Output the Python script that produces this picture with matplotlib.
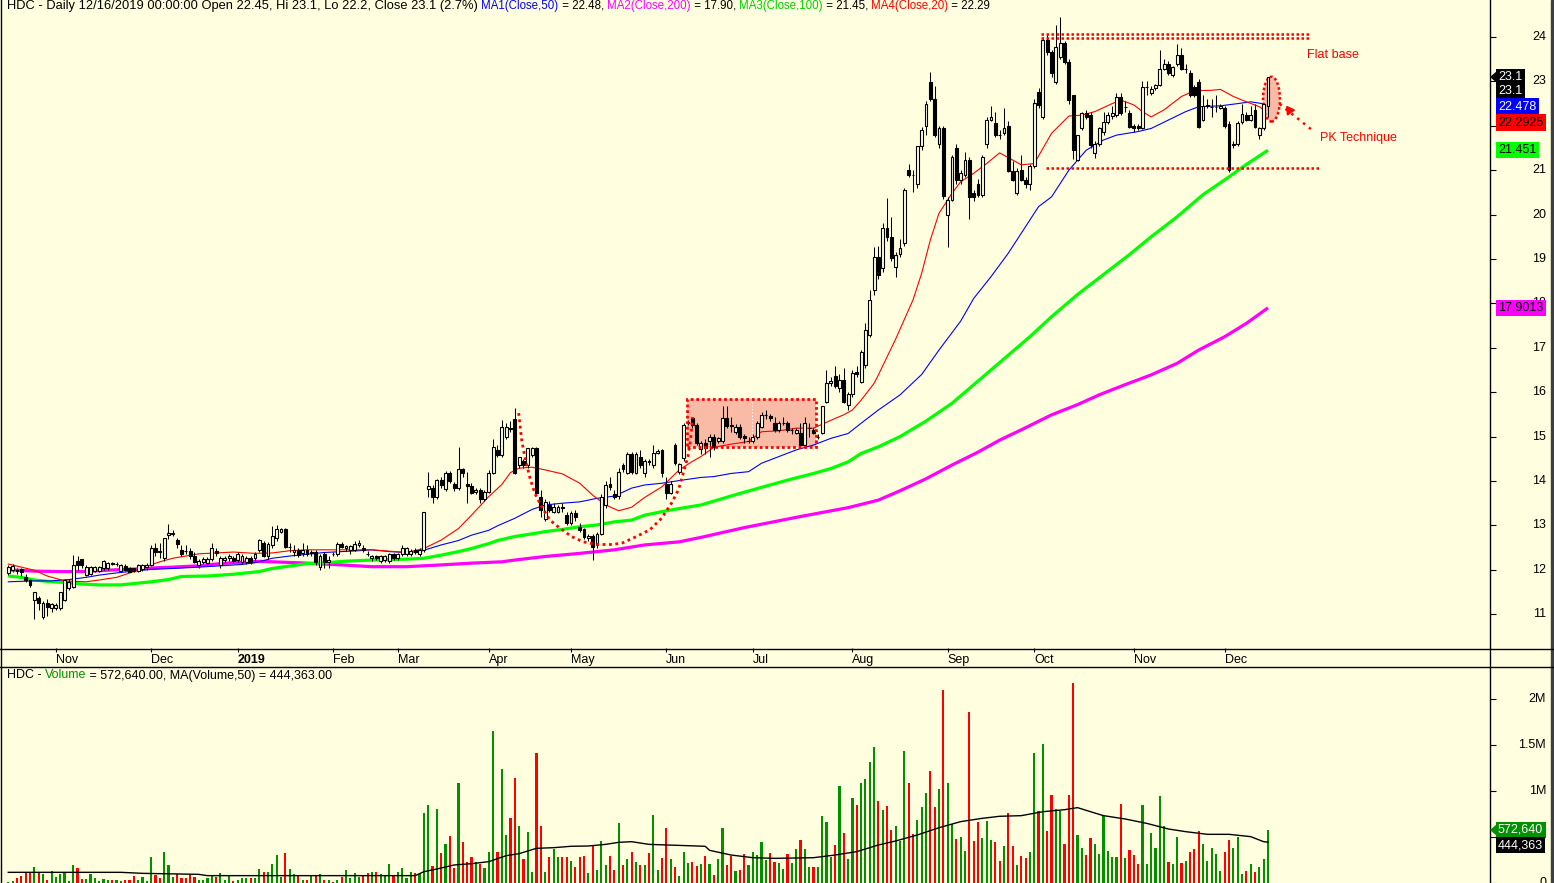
import numpy as np
import matplotlib
matplotlib.use("Agg")
import matplotlib.pyplot as plt
from matplotlib.patches import Rectangle, Ellipse, Polygon
from matplotlib.lines import Line2D
from matplotlib.transforms import blended_transform_factory, ScaledTranslation

plt.rcParams['font.family'] = ['Liberation Sans', 'DejaVu Sans']

# ---- daily OHLC, Oct 2018 .. 16 Dec 2019 ----
opens = [
    11.92, 12.00, 12.00, 12.01, 11.84, 11.77, 11.32, 11.36, 10.93, 11.26,
    11.13, 11.15, 11.13, 11.32, 11.58, 11.62, 12.20, 12.24, 11.89, 11.90,
    11.98, 11.98, 12.04, 12.04, 12.15, 12.13, 11.98, 12.09, 12.03, 12.03,
    11.98, 12.01, 12.06, 12.11, 12.48, 12.42, 12.26, 12.78, 12.81, 12.67,
    12.45, 12.43, 12.43, 12.31, 12.11, 12.18, 12.15, 12.24, 12.43, 12.11,
    12.21, 12.26, 12.26, 12.22, 12.18, 12.18, 12.26, 12.26, 12.45, 12.61,
    12.30, 12.56, 12.71, 12.86, 12.91, 12.52, 12.39, 12.45, 12.37, 12.45,
    12.37, 12.39, 12.06, 12.36, 12.18, 12.36, 12.35, 12.58, 12.48, 12.45,
    12.45, 12.56, 12.48, 12.36, 12.26, 12.31, 12.20, 12.22, 12.20, 12.35,
    12.26, 12.35, 12.35, 12.36, 12.45, 12.36, 12.45, 13.83, 13.85, 13.65,
    14.02, 13.83, 14.19, 13.93, 13.84, 14.26, 13.93, 13.89, 13.76, 13.80,
    13.59, 13.76, 14.17, 14.70, 14.59, 15.00, 15.19, 15.39, 14.36, 14.44,
    14.36, 14.59, 14.74, 13.65, 13.14, 13.46, 13.31, 13.31, 13.41, 13.23,
    13.05, 13.27, 12.97, 12.91, 12.71, 12.76, 12.58, 12.81, 13.46, 13.93,
    13.71, 13.66, 14.36, 14.19, 14.60, 14.19, 14.55, 14.17, 14.44, 14.36,
    14.64, 14.70, 13.93, 13.74, 14.81, 14.21, 14.51, 15.30, 15.41, 15.26,
    14.71, 14.86, 14.89, 14.98, 14.89, 14.89, 15.41, 15.26, 15.11, 15.22,
    15.01, 14.91, 14.89, 15.00, 15.22, 15.49, 15.46, 15.30, 15.15, 15.30,
    15.30, 15.14, 15.09, 15.09, 14.80, 15.19, 15.15, 15.00, 15.09, 15.79,
    16.21, 16.36, 16.09, 16.28, 15.71, 15.95, 16.46, 16.24, 16.61, 17.29,
    18.30, 19.05, 18.79, 19.69, 19.49, 18.83, 19.11, 19.35, 21.00, 20.90,
    20.68, 21.54, 22.00, 22.99, 22.60, 21.59, 21.94, 19.99, 20.34, 21.49,
    20.78, 20.89, 21.24, 20.49, 20.69, 20.44, 21.59, 22.14, 22.07, 21.80,
    21.84, 22.00, 20.99, 20.49, 21.00, 20.79, 20.69, 21.09, 22.77, 22.20,
    23.93, 23.67, 22.99, 23.56, 23.86, 23.44, 22.69, 21.24, 21.94, 22.28,
    22.24, 21.38, 21.59, 21.87, 22.09, 22.22, 22.24, 22.64, 22.43, 22.28,
    21.99, 21.99, 21.96, 22.88, 22.73, 22.86, 22.92, 23.29, 23.39, 23.14,
    23.39, 23.59, 23.29, 23.20, 22.88, 22.99, 22.14, 22.44, 22.43, 22.43,
    22.41, 22.41, 22.04, 21.57, 21.59, 22.09, 22.24, 22.14, 22.35, 21.79,
    21.94, 22.45,
]
highs = [
    12.10, 12.12, 12.05, 12.05, 11.90, 11.80, 11.50, 11.40, 11.30, 11.35,
    11.25, 11.25, 11.50, 11.80, 11.80, 12.33, 12.30, 12.25, 12.10, 12.08,
    12.08, 12.08, 12.22, 12.18, 12.18, 12.18, 12.12, 12.12, 12.06, 12.05,
    12.12, 12.14, 12.15, 12.55, 12.60, 12.60, 12.72, 13.03, 12.90, 12.72,
    12.55, 12.55, 12.48, 12.40, 12.24, 12.28, 12.28, 12.60, 12.48, 12.30,
    12.30, 12.35, 12.30, 12.40, 12.35, 12.30, 12.30, 12.40, 12.70, 12.65,
    12.62, 12.99, 13.00, 12.95, 12.95, 12.60, 12.55, 12.50, 12.60, 12.55,
    12.45, 12.45, 12.35, 12.40, 12.30, 12.40, 12.62, 12.62, 12.56, 12.56,
    12.65, 12.68, 12.55, 12.42, 12.34, 12.34, 12.34, 12.34, 12.38, 12.38,
    12.38, 12.55, 12.52, 12.46, 12.48, 12.48, 13.31, 14.21, 13.90, 14.05,
    14.08, 14.22, 14.22, 13.98, 14.77, 14.30, 14.20, 13.95, 13.85, 13.85,
    13.80, 14.25, 14.95, 14.80, 15.37, 15.30, 15.35, 15.64, 14.55, 14.50,
    14.75, 14.76, 14.76, 13.80, 13.60, 13.55, 13.50, 13.45, 13.50, 13.30,
    13.32, 13.35, 13.05, 12.95, 12.80, 12.80, 12.85, 13.70, 14.00, 14.10,
    13.80, 14.30, 14.40, 14.65, 14.65, 14.65, 14.70, 14.50, 14.50, 14.80,
    14.72, 14.72, 14.10, 14.00, 14.85, 14.40, 15.30, 15.38, 15.45, 15.30,
    14.90, 14.95, 15.05, 15.05, 15.00, 15.70, 15.70, 15.45, 15.28, 15.28,
    15.05, 15.00, 15.05, 15.35, 15.55, 15.60, 15.50, 15.45, 15.35, 15.45,
    15.35, 15.20, 15.20, 15.30, 15.45, 15.30, 15.20, 15.05, 15.70, 16.50,
    16.35, 16.60, 16.40, 16.55, 16.00, 16.50, 16.60, 16.95, 17.55, 18.30,
    19.27, 19.30, 19.80, 20.37, 19.95, 19.15, 19.45, 20.60, 21.15, 21.00,
    21.55, 21.98, 22.55, 23.22, 22.90, 22.00, 22.00, 20.40, 21.35, 21.60,
    21.00, 21.40, 21.30, 20.55, 20.80, 21.35, 22.20, 22.45, 22.30, 21.90,
    22.40, 22.10, 21.20, 21.05, 21.35, 20.85, 21.15, 22.60, 22.85, 24.00,
    24.05, 23.70, 24.27, 24.46, 23.90, 23.50, 22.70, 21.80, 22.30, 22.35,
    22.30, 21.65, 21.98, 22.30, 22.30, 22.45, 22.73, 22.73, 22.55, 22.35,
    22.05, 22.05, 23.00, 23.00, 22.90, 22.95, 23.70, 23.50, 23.45, 23.35,
    23.85, 23.75, 23.40, 23.25, 22.92, 23.05, 22.70, 22.60, 22.60, 22.70,
    22.50, 22.45, 22.10, 21.65, 22.10, 22.50, 22.30, 22.45, 22.50, 21.98,
    22.52, 23.10,
]
lows = [
    11.88, 11.95, 11.90, 11.85, 11.72, 11.62, 10.90, 11.10, 10.90, 10.95,
    11.05, 11.10, 11.10, 11.30, 11.55, 11.60, 12.00, 12.05, 11.85, 11.88,
    11.95, 11.95, 12.00, 12.00, 12.10, 12.08, 11.95, 11.98, 11.94, 11.95,
    11.95, 11.98, 12.00, 12.08, 12.30, 12.26, 12.20, 12.70, 12.75, 12.50,
    12.30, 12.35, 12.25, 12.15, 12.05, 12.12, 12.10, 12.20, 12.30, 12.05,
    12.15, 12.20, 12.15, 12.18, 12.12, 12.12, 12.12, 12.20, 12.40, 12.28,
    12.25, 12.50, 12.65, 12.82, 12.48, 12.40, 12.30, 12.28, 12.30, 12.30,
    12.32, 12.10, 12.00, 12.05, 12.05, 12.30, 12.30, 12.48, 12.42, 12.35,
    12.42, 12.52, 12.40, 12.30, 12.20, 12.22, 12.15, 12.18, 12.15, 12.22,
    12.22, 12.32, 12.30, 12.32, 12.35, 12.32, 12.40, 13.65, 13.50, 13.60,
    13.85, 13.78, 13.95, 13.78, 13.80, 14.10, 13.50, 13.70, 13.70, 13.50,
    13.55, 13.72, 14.15, 14.55, 14.55, 14.95, 15.10, 14.15, 14.30, 14.30,
    14.30, 14.55, 13.70, 13.20, 13.10, 13.30, 13.28, 13.28, 13.30, 13.00,
    13.00, 13.10, 12.85, 12.70, 12.65, 12.22, 12.50, 12.78, 13.40, 13.80,
    13.60, 13.60, 14.20, 14.15, 14.15, 14.15, 14.30, 14.10, 14.35, 14.30,
    14.60, 14.10, 13.60, 13.70, 14.35, 14.15, 14.45, 15.25, 15.20, 14.80,
    14.60, 14.60, 14.55, 14.70, 14.85, 14.85, 15.20, 15.10, 15.05, 14.95,
    14.85, 14.85, 14.85, 14.95, 15.20, 15.40, 15.35, 15.10, 15.10, 15.25,
    15.10, 15.05, 15.05, 14.78, 14.78, 15.00, 15.05, 14.95, 15.05, 15.75,
    16.15, 16.10, 16.00, 15.75, 15.60, 15.90, 16.35, 16.20, 16.55, 17.25,
    18.20, 18.55, 18.70, 19.40, 18.95, 18.60, 19.05, 19.30, 20.85, 20.50,
    20.60, 21.45, 21.80, 22.55, 21.75, 21.50, 20.35, 19.26, 20.30, 20.70,
    20.70, 20.85, 19.90, 20.30, 20.40, 20.40, 21.50, 22.10, 21.75, 21.70,
    21.80, 20.95, 20.75, 20.45, 20.75, 20.60, 20.55, 21.05, 22.40, 22.15,
    23.60, 23.10, 22.95, 23.50, 23.40, 22.50, 21.25, 21.20, 21.90, 22.15,
    21.50, 21.28, 21.55, 21.80, 22.05, 22.15, 22.20, 22.25, 22.30, 21.95,
    21.85, 21.90, 21.92, 22.70, 22.70, 22.80, 22.90, 23.25, 23.15, 23.10,
    23.35, 23.25, 23.20, 22.65, 22.65, 21.95, 22.10, 22.40, 22.20, 22.30,
    22.38, 21.95, 20.95, 21.50, 21.55, 22.05, 22.10, 22.10, 21.95, 21.70,
    21.90, 22.20,
]
closes = [
    12.06, 12.09, 11.98, 11.96, 11.78, 11.66, 11.49, 11.26, 11.26, 11.17,
    11.22, 11.20, 11.49, 11.76, 11.73, 12.11, 12.11, 12.11, 12.06, 12.06,
    12.06, 12.06, 12.20, 12.15, 12.14, 12.13, 12.11, 12.00, 11.96, 11.98,
    12.10, 12.11, 12.11, 12.48, 12.39, 12.40, 12.71, 12.82, 12.84, 12.58,
    12.35, 12.42, 12.31, 12.18, 12.20, 12.24, 12.24, 12.49, 12.37, 12.26,
    12.26, 12.31, 12.20, 12.35, 12.31, 12.26, 12.18, 12.35, 12.67, 12.30,
    12.58, 12.76, 12.91, 12.91, 12.52, 12.52, 12.45, 12.33, 12.45, 12.36,
    12.40, 12.18, 12.31, 12.18, 12.23, 12.35, 12.58, 12.52, 12.53, 12.53,
    12.58, 12.61, 12.45, 12.35, 12.31, 12.26, 12.31, 12.31, 12.35, 12.26,
    12.35, 12.48, 12.48, 12.43, 12.39, 12.45, 13.31, 13.88, 13.65, 14.02,
    13.91, 14.19, 14.01, 13.84, 14.26, 14.17, 13.89, 13.74, 13.80, 13.59,
    13.76, 14.17, 14.77, 14.59, 15.21, 15.21, 15.17, 14.17, 14.53, 14.36,
    14.74, 14.74, 13.74, 13.35, 13.53, 13.35, 13.41, 13.41, 13.40, 13.05,
    13.29, 13.18, 12.90, 12.75, 12.76, 12.52, 12.81, 13.65, 13.91, 13.87,
    13.65, 14.21, 14.26, 14.60, 14.21, 14.60, 14.36, 14.44, 14.43, 14.64,
    14.68, 14.17, 13.74, 13.93, 14.40, 14.38, 15.26, 15.34, 15.26, 14.85,
    14.85, 14.74, 15.00, 14.77, 14.96, 15.41, 15.24, 15.25, 15.22, 15.00,
    14.96, 14.91, 15.00, 15.30, 15.49, 15.49, 15.41, 15.15, 15.30, 15.30,
    15.15, 15.14, 15.14, 14.81, 15.30, 15.19, 15.09, 15.00, 15.69, 16.20,
    16.25, 16.14, 16.28, 15.79, 15.95, 16.44, 16.41, 16.91, 17.40, 18.08,
    19.05, 18.64, 19.69, 19.49, 19.03, 19.09, 19.24, 20.55, 20.89, 20.89,
    21.54, 21.90, 22.48, 22.60, 21.79, 21.94, 20.42, 20.34, 21.29, 20.79,
    20.93, 21.24, 20.40, 20.40, 20.44, 21.29, 22.14, 22.19, 21.79, 21.79,
    21.94, 20.99, 20.79, 20.99, 20.79, 20.69, 21.09, 22.52, 22.47, 23.93,
    23.67, 23.18, 23.78, 23.86, 23.44, 22.58, 21.45, 21.79, 22.28, 22.20,
    21.57, 21.59, 21.94, 22.09, 22.24, 22.28, 22.64, 22.28, 22.43, 21.98,
    21.94, 21.94, 22.88, 22.88, 22.84, 22.92, 23.29, 23.39, 23.18, 23.33,
    23.59, 23.29, 23.29, 22.69, 22.69, 21.98, 22.44, 22.47, 22.43, 22.43,
    22.44, 21.99, 21.00, 21.59, 22.07, 22.26, 22.14, 22.24, 21.98, 21.94,
    22.49, 23.10,
]
# volume in thousands of shares
volume_k = [
    14, 22, 51, 76, 116, 116, 174, 116, 94, 33,
    130, 65, 94, 109, 22, 196, 167, 43, 43, 94,
    51, 22, 43, 33, 29, 29, 22, 29, 33, 80,
    29, 65, 22, 283, 87, 51, 333, 196, 65, 94,
    58, 58, 87, 65, 33, 33, 58, 87, 65, 109,
    33, 72, 22, 29, 51, 51, 51, 58, 152, 123,
    123, 210, 304, 65, 322, 152, 101, 87, 33, 33,
    87, 87, 94, 33, 33, 14, 33, 65, 141, 51,
    105, 65, 87, 109, 123, 116, 101, 87, 207, 80,
    116, 167, 58, 116, 105, 94, 764, 848, 188, 804,
    326, 424, 511, 159, 1087, 442, 228, 283, 228, 210,
    167, 337, 1652, 337, 1239, 522, 707, 1141, 620, 261,
    558, 123, 1417, 620, 120, 283, 370, 283, 283, 283,
    239, 174, 283, 293, 109, 413, 145, 457, 196, 293,
    145, 652, 196, 261, 341, 232, 196, 196, 326, 739,
    141, 275, 601, 261, 178, 80, 341, 217, 232, 185,
    207, 297, 207, 87, 261, 601, 196, 297, 130, 145,
    315, 196, 337, 304, 449, 250, 326, 232, 217, 152,
    315, 217, 370, 467, 370, 174, 174, 174, 732, 663,
    283, 413, 1054, 543, 261, 924, 848, 1087, 1130, 1315,
    1482, 891, 793, 837, 576, 620, 457, 1435, 1087, 529,
    685, 826, 978, 1217, 826, 1022, 2098, 1087, 645, 478,
    500, 348, 1859, 457, 663, 489, 674, 467, 446, 239,
    402, 761, 402, 196, 293, 272, 337, 1413, 783, 1511,
    565, 957, 804, 786, 424, 957, 2174, 522, 380, 304,
    489, 424, 315, 728, 348, 283, 283, 859, 272, 359,
    304, 207, 848, 207, 543, 380, 946, 620, 228, 207,
    500, 217, 239, 337, 370, 565, 424, 239, 380, 315,
    130, 337, 467, 380, 500, 98, 130, 207, 120, 174,
    261, 572.64,
]

# moving averages (bar index, value)
ma20_idx = [0, 6, 9, 13, 18, 21, 25, 29, 32, 35, 38, 44, 52, 57, 61, 65, 69, 77, 84, 88,
            92, 96, 100, 104, 107, 111, 114, 116, 118, 121, 124, 128, 132, 135, 138, 141, 144, 147, 151, 155,
            158, 160, 163, 167, 171, 174, 178, 182, 186, 191, 193, 195, 197, 200, 201, 205, 209, 211, 213, 215,
            218, 220, 223, 226, 229, 232, 234, 237, 239, 241, 245, 248, 251, 255, 257, 260, 262, 264, 267, 271,
            274, 278, 280, 283, 286, 289, 291]
ma20_val = [12.13, 11.99, 11.86, 11.75, 11.73, 11.77, 11.83, 11.96, 12.08, 12.18, 12.26, 12.36, 12.40, 12.37, 12.38, 12.43, 12.45, 12.45, 12.45, 12.42,
            12.39, 12.48, 12.67, 12.93, 13.23, 13.65, 13.92, 14.19, 14.29, 14.31, 14.25, 14.16, 13.95, 13.68, 13.46, 13.33, 13.41, 13.63, 13.87, 14.25,
            14.44, 14.55, 14.76, 14.83, 14.89, 15.11, 15.13, 15.19, 15.19, 15.41, 15.49, 15.60, 15.82, 16.20, 16.39, 17.20, 18.08, 18.68, 19.43, 20.03,
            20.48, 20.74, 20.93, 21.15, 21.39, 21.23, 21.12, 21.15, 21.49, 21.83, 22.22, 22.24, 22.32, 22.50, 22.58, 22.47, 22.32, 22.20, 22.36, 22.66,
            22.79, 22.80, 22.82, 22.66, 22.54, 22.43, 22.29]
ma50_idx = [0, 6, 10, 14, 18, 21, 25, 29, 33, 38, 44, 49, 54, 57, 61, 65, 69, 73, 77, 81,
            84, 88, 92, 95, 100, 104, 107, 111, 113, 117, 121, 124, 128, 132, 136, 140, 144, 147, 151, 155,
            160, 163, 167, 171, 174, 178, 182, 186, 190, 194, 197, 201, 206, 211, 215, 220, 223, 227, 231, 234,
            238, 241, 245, 249, 253, 256, 261, 264, 268, 272, 275, 280, 284, 287, 291]
ma50_val = [11.73, 11.75, 11.75, 11.78, 11.83, 11.88, 11.93, 11.97, 12.01, 12.03, 12.06, 12.09, 12.12, 12.16, 12.26, 12.31, 12.35, 12.39, 12.41, 12.43,
            12.45, 12.41, 12.39, 12.41, 12.56, 12.66, 12.78, 12.89, 12.99, 13.16, 13.36, 13.46, 13.50, 13.53, 13.61, 13.66, 13.84, 13.91, 13.95, 14.01,
            14.08, 14.10, 14.17, 14.21, 14.40, 14.55, 14.70, 14.81, 14.96, 15.07, 15.30, 15.60, 15.94, 16.40, 16.95, 17.60, 18.11, 18.60, 19.13, 19.58,
            20.18, 20.40, 21.00, 21.45, 21.68, 21.79, 21.87, 21.94, 22.13, 22.32, 22.43, 22.45, 22.50, 22.54, 22.48]
ma100_idx = [0, 3, 6, 10, 14, 17, 21, 26, 29, 33, 37, 40, 46, 52, 58, 61, 69, 74, 77, 84,
             92, 96, 100, 104, 107, 111, 113, 117, 121, 124, 128, 132, 136, 140, 144, 147, 151, 155, 160, 169,
             180, 186, 190, 194, 197, 201, 206, 212, 218, 224, 230, 236, 241, 247, 253, 259, 264, 270, 276, 282,
             286, 291]
ma100_val = [11.86, 11.83, 11.77, 11.73, 11.71, 11.68, 11.66, 11.66, 11.69, 11.73, 11.78, 11.85, 11.86, 11.90, 11.96, 12.03, 12.14, 12.16, 12.19, 12.22,
             12.24, 12.26, 12.33, 12.41, 12.48, 12.59, 12.66, 12.75, 12.81, 12.86, 12.91, 12.97, 13.01, 13.08, 13.12, 13.23, 13.31, 13.38, 13.46, 13.72,
             14.02, 14.17, 14.28, 14.43, 14.62, 14.77, 15.00, 15.35, 15.75, 16.25, 16.75, 17.25, 17.70, 18.20, 18.65, 19.10, 19.50, 19.95, 20.45, 20.85,
             21.13, 21.45]
ma200_idx = [0, 6, 12, 17, 25, 30, 35, 38, 44, 49, 54, 58, 61, 69, 73, 77, 84, 92, 100, 107,
             114, 117, 124, 132, 140, 147, 155, 160, 170, 183, 194, 201, 206, 212, 218, 224, 229, 235, 241, 247,
             252, 258, 264, 270, 275, 281, 286, 291]
ma200_val = [12.00, 11.97, 11.96, 11.96, 12.00, 12.02, 12.05, 12.06, 12.09, 12.14, 12.17, 12.19, 12.18, 12.15, 12.13, 12.11, 12.07, 12.07, 12.11, 12.15,
             12.18, 12.22, 12.30, 12.37, 12.45, 12.56, 12.63, 12.73, 12.95, 13.20, 13.40, 13.57, 13.78, 14.05, 14.36, 14.65, 14.92, 15.20, 15.49, 15.72,
             15.94, 16.17, 16.39, 16.65, 16.95, 17.25, 17.55, 17.90]
vma_idx = [0, 26, 31, 44, 46, 94, 96, 99, 103, 107, 111, 115, 118, 122, 126, 130, 134, 138, 141, 144,
           148, 161, 162, 167, 172, 177, 186, 191, 196, 201, 205, 210, 215, 220, 225, 229, 234, 239, 244, 247,
           250, 253, 258, 263, 268, 272, 277, 282, 287, 290, 291]
vma_k = [116, 116, 105, 94, 80, 80, 123, 152, 196, 210, 232, 297, 319, 377, 384, 399, 402, 420, 442, 449,
         420, 399, 355, 304, 275, 268, 275, 304, 341, 413, 457, 522, 601, 667, 703, 725, 732, 775, 797, 819,
         775, 732, 696, 648, 587, 558, 529, 529, 504, 449, 444]

month_idx = [11, 33, 53, 75, 90, 111, 130, 152, 172, 195, 217, 237, 260, 281]
month_lbl = ['Nov', 'Dec', '2019', 'Feb', 'Mar', 'Apr', 'May', 'Jun', 'Jul', 'Aug', 'Sep', 'Oct', 'Nov', 'Dec']

# hand drawn annotations (bar index / price)
cup_idx = [117.9, 118.6, 119.3, 120.5, 121.6, 123.2, 125.1, 127.4, 130.1, 132.8, 135.9, 139.7, 142.0,
           145.1, 148.2, 150.9, 153.2, 154.8, 155.9, 157.0, 157.6, 158.1]
cup_price = [15.53, 14.92, 14.55, 14.07, 13.73, 13.42, 13.12, 12.94, 12.75, 12.63, 12.57, 12.57, 12.61,
             12.75, 12.90, 13.16, 13.50, 13.80, 14.17, 14.55, 14.92, 15.44]
box_idx = (156.7, 186.7)
box_price = (14.77, 15.85)
flat_top = (238.6, 301.0, 24.06, 23.97)
flat_bottom = (239.8, 302.9, 21.06)

W, H = 1554, 883
BG = '#FFFFE0'
GREEN_VOL = '#009000'

o = np.array(opens); h = np.array(highs); l = np.array(lows); c = np.array(closes)
v = np.array(volume_k) / 1000.0
n = len(c)
x = np.arange(n)
step = (1268 - 8.3) / (n - 1)
xlim = (-8.3 / step, (1490 - 8.3) / step)

fig = plt.figure(figsize=(W / 100, H / 100), dpi=100, facecolor=BG)
ax = fig.add_axes([0, 235 / H, 1490 / W, 648 / H], facecolor=BG)
axv = fig.add_axes([0, 0, 1490 / W, 217 / H], facecolor=BG)

for a in (ax, axv):
    a.set_xlim(*xlim)
    for s in a.spines.values():
        s.set_visible(False)
ax.set_ylim(24 - 611 / 44.4, 24 + 37 / 44.4)
axv.set_ylim(0, 217 / 92)

# moving averages
ax.plot(ma200_idx, ma200_val, color='#FF00FF', lw=2.3, zorder=2, solid_capstyle='butt')
ax.plot(ma100_idx, ma100_val, color='#00FF00', lw=2.3, zorder=2, solid_capstyle='butt')
ax.plot(ma50_idx, ma50_val, color='#0000FF', lw=0.8, zorder=2)
ax.plot(ma20_idx, ma20_val, color='#FF0000', lw=0.8, zorder=2)

# annotation: consolidation box and cup
ax.add_patch(Rectangle((box_idx[0], box_price[0]), box_idx[1] - box_idx[0], box_price[1] - box_price[0],
                       facecolor='#F9BBA6', edgecolor='none', zorder=1))
ax.add_patch(Rectangle((box_idx[0], box_price[0]), box_idx[1] - box_idx[0], box_price[1] - box_price[0],
                       facecolor='none', edgecolor='#FF0000', lw=2.0, linestyle=(0, (1, 1)), zorder=5))
ax.plot([171.8, 171.8], [14.85, 15.85], color='white', lw=0.8, linestyle=(0, (1, 2)), zorder=1.5)
ax.plot(cup_idx, cup_price, color='#FF0000', lw=2.0, linestyle=(0, (1, 1.3)), zorder=5)

# flat base lines
for yv in flat_top[2:]:
    ax.plot([flat_top[0], flat_top[1]], [yv, yv], color='#FF0000', lw=1.8, linestyle=(0, (1, 1)), zorder=5)
ax.plot([flat_bottom[0], flat_bottom[1]], [flat_bottom[2], flat_bottom[2]], color='#FF0000', lw=1.8,
        linestyle=(0, (1, 1)), zorder=5)

# PK ellipse + arrow
ax.add_patch(Ellipse((291.8, 22.60), 3.9, 1.01, facecolor='#F9BBA6', edgecolor='#FF0000', lw=1.8,
                     linestyle=(0, (1, 1)), zorder=2.5))
ax.plot([293.7, 301.1], [22.49, 21.91], color='#FF0000', lw=1.8, linestyle=(0, (1, 2)), zorder=5)
ax.plot([295.9], [22.36], marker=(3, 0, 35), color='#FF0000', markersize=7, zorder=5)

# candles
up = c >= o
ax.vlines(x, l, h, color='black', lw=0.75, zorder=3)
bottom = np.minimum(o, c)
height = np.abs(c - o)
ax.bar(x[up], height[up], bottom=bottom[up], width=0.66, color=BG, edgecolor='black', lw=0.8, zorder=4)
ax.bar(x[~up], height[~up], bottom=bottom[~up], width=0.66, color='black', edgecolor='black', lw=0.8, zorder=4)

# volume, coloured like the candle
vcol = np.where(up, GREEN_VOL, '#FF0000')
axv.bar(x, v, width=0.5, color=vcol, zorder=2)
axv.plot(vma_idx, np.array(vma_k) / 1000.0, color='black', lw=1.0, zorder=3)

# axes ticks
ax.set_xticks(month_idx)
ax.set_xticklabels(month_lbl)
shift = ScaledTranslation(2 / 100, 0, fig.dpi_scale_trans)
for lab in ax.get_xticklabels():
    lab.set_ha('left')
    lab.set_transform(lab.get_transform() + shift)
    if lab.get_text() == '2019':
        lab.set_fontweight('bold')
ax.tick_params(axis='x', direction='out', length=3, width=0.8, pad=1, labelsize=9)
ax.yaxis.tick_right()
ax.set_yticks(range(11, 25))
ax.tick_params(axis='y', direction='out', length=4, width=0.8, labelright=False, labelleft=False)
axv.set_xticks([])
axv.yaxis.tick_right()
axv.set_yticks([0, 0.5, 1, 1.5, 2])
axv.tick_params(axis='y', direction='out', length=4, width=0.8, labelright=False, labelleft=False)

tr = blended_transform_factory(ax.transAxes, ax.transData)
for p in range(11, 25):
    ax.text(1546 / 1490, p, str(p), transform=tr, ha='right', va='center', fontsize=9, clip_on=False)
trv = blended_transform_factory(axv.transAxes, axv.transData)
for val, txt in [(0, '0'), (1, '1M'), (1.5, '1.5M'), (2, '2M')]:
    axv.text(1546 / 1490, val, txt, transform=trv, ha='right', va='center', fontsize=9, clip_on=False)

# frame lines
def fline(x0, y0, x1, y1, lw=1.0, color='black'):
    fig.add_artist(Line2D([x0 / W, x1 / W], [1 - y0 / H, 1 - y1 / H], color=color, lw=lw))

fline(0, 648.5, W, 648.5)
fline(0, 666.5, W, 666.5)
fline(1489.5, 0, 1489.5, H)
fline(0.5, 0, 0.5, H)
fig.add_artist(Rectangle((1550.5 / W, 0), 3.5 / W, 1, transform=fig.transFigure, color='#3E3E48'))

# annotation texts
ax.text(300.0, 23.59, 'Flat base', color='#FF0000', fontsize=9, va='center', ha='left', zorder=6)
ax.text(303.0, 21.73, 'PK Technique', color='#FF0000', fontsize=9, va='center', ha='left', zorder=6)

# multi-coloured headers
renderer = fig.canvas.get_renderer()


def header(x_px, y_px, parts):
    for s, col, fs in parts:
        t = fig.text(x_px / W, 1 - y_px / H, s, color=col, fontsize=fs, va='center', ha='left')
        x_px += t.get_window_extent(renderer=renderer).width


header(7, 6, [('HDC - Daily 12/16/2019 00:00:00 Open 22.45, Hi 23.1, Lo 22.2, Close 23.1 (2.7%) ', 'black', 9.25),
              ('MA1(Close,50)', '#0000FF', 8.3), (' = 22.48, ', 'black', 8.3),
              ('MA2(Close,200)', '#FF00FF', 8.3), (' = 17.90, ', 'black', 8.3),
              ('MA3(Close,100)', '#00D000', 8.3), (' = 21.45, ', 'black', 8.3),
              ('MA4(Close,20)', '#FF0000', 8.3), (' = 22.29', 'black', 8.3)])
header(7, 675.5, [('HDC - ', 'black', 9), ('Volume', GREEN_VOL, 9),
                  (' = 572,640.00, MA(Volume,50) = 444,363.00', 'black', 9)])

# value boxes on the right axis
def vbox(y_px, txt, bg, fg, arrow=False):
    fig.text(1498 / W, 1 - y_px / H, txt, color=fg, fontsize=9, va='center', ha='left',
             bbox=dict(boxstyle='square,pad=0.18', facecolor=bg, edgecolor='none'), zorder=10)
    if arrow:
        fig.add_artist(Polygon([[1490 / W, 1 - y_px / H], [1497 / W, 1 - (y_px - 6) / H],
                                [1497 / W, 1 - (y_px + 6) / H]], closed=True, transform=fig.transFigure,
                               facecolor=bg, edgecolor='none', zorder=10))


vbox(77, '23.1', 'black', 'white', arrow=True)
vbox(91, '23.1', 'black', 'white')
vbox(106.5, '22.478', '#0000FF', 'white')
vbox(122.5, '22.2925', '#FF0000', 'black')
vbox(150, '21.451', '#00FF00', 'black')
vbox(308, '17.9013', '#FF00FF', 'black')
vbox(830, '572,640', GREEN_VOL, 'white', arrow=True)
vbox(845, '444,363', 'black', 'white')

fig.savefig('out.png', dpi=100, facecolor=BG)
